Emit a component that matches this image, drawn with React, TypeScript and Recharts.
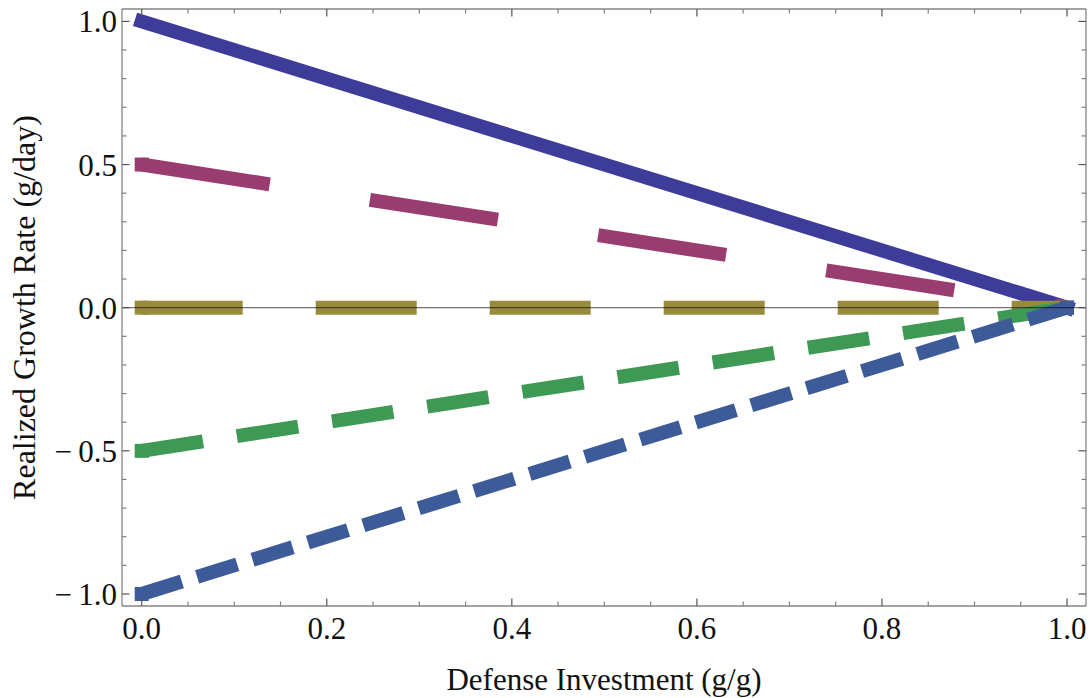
import React from 'react';
import { LineChart, Line, XAxis, YAxis, ReferenceLine } from 'recharts';

// ---- data ----
const investment = [0, 1];
const rateHigh = [1, 0];
const rateMid = [0.5, 0];
const rateZero = [0, 0];
const rateNegMid = [-0.5, 0];
const rateNegHigh = [-1, 0];

const xMajorTicks = [0, 0.2, 0.4, 0.6, 0.8, 1.0];
const xTickLabels = ['0.0', '0.2', '0.4', '0.6', '0.8', '1.0'];
const xAllTicks = [0, 0.05, 0.1, 0.15, 0.2, 0.25, 0.3, 0.35, 0.4, 0.45, 0.5, 0.55, 0.6, 0.65, 0.7, 0.75, 0.8, 0.85, 0.9, 0.95, 1.0];

const yMajorTicks = [-1, -0.5, 0, 0.5, 1];
const yTickLabels = ['\u2212\u20091.0', '\u2212\u20090.5', '0.0', '0.5', '1.0'];
const yAllTicks = [-1, -0.9, -0.8, -0.7, -0.6, -0.5, -0.4, -0.3, -0.2, -0.1, 0, 0.1, 0.2, 0.3, 0.4, 0.5, 0.6, 0.7, 0.8, 0.9, 1.0];

const xTitle = 'Defense Investment (g/g)';
const yTitle = 'Realized Growth Rate (g/day)';

const table = investment.map((x, i) => ({
  x,
  high: rateHigh[i],
  mid: rateMid[i],
  zero: rateZero[i],
  negMid: rateNegMid[i],
  negHigh: rateNegHigh[i],
}));
const tableRev = [...table].reverse();

// ---- style ----
const FONT = 'Liberation Serif, Times New Roman, serif';
const X_DOMAIN: [number, number] = [-0.0213, 1.0205];
const Y_DOMAIN: [number, number] = [-1.042, 1.0433];
const FRAME = { stroke: '#858585', strokeWidth: 1.3 };
const LW = 14;
const MAJOR_LEN = 7.5;
const MINOR_LEN = 4.5;

const findMajor = (arr: number[], v: number) => arr.findIndex((m) => Math.abs(m - v) < 1e-6);

const BottomTick = (props: any) => {
  const { x, y, payload } = props;
  const idx = findMajor(xMajorTicks, payload.value);
  const major = idx >= 0;
  return (
    <g>
      <line x1={x} x2={x} y1={y} y2={y - (major ? MAJOR_LEN : MINOR_LEN)} stroke={major ? '#555' : '#808080'} strokeWidth={1.2} />
      {major && (
        <text x={x} y={y + 33} textAnchor="middle" fontFamily={FONT} fontSize={31} fill="#111">
          {xTickLabels[idx]}
        </text>
      )}
    </g>
  );
};

const TopTick = (props: any) => {
  const { x, y, payload } = props;
  const major = findMajor(xMajorTicks, payload.value) >= 0;
  return <line x1={x} x2={x} y1={y} y2={y + (major ? MAJOR_LEN : MINOR_LEN)} stroke={major ? '#555' : '#808080'} strokeWidth={1.2} />;
};

const LeftTick = (props: any) => {
  const { x, y, payload } = props;
  const idx = findMajor(yMajorTicks, payload.value);
  const major = idx >= 0;
  return (
    <g>
      <line x1={x} x2={x + (major ? MAJOR_LEN : MINOR_LEN)} y1={y} y2={y} stroke={major ? '#555' : '#808080'} strokeWidth={1.2} />
      {major && (
        <text x={x - 5} y={y + 11} textAnchor="end" fontFamily={FONT} fontSize={31} fill="#111">
          {yTickLabels[idx]}
        </text>
      )}
    </g>
  );
};

const RightTick = (props: any) => {
  const { x, y, payload } = props;
  const major = findMajor(yMajorTicks, payload.value) >= 0;
  return <line x1={x} x2={x - (major ? MAJOR_LEN : MINOR_LEN)} y1={y} y2={y} stroke={major ? '#555' : '#808080'} strokeWidth={1.2} />;
};

const XTitle = (props: any) => {
  const vb = props.viewBox || { x: 122, y: 606, width: 964, height: 92 };
  return (
    <text x={vb.x + vb.width / 2} y={vb.y + 84} textAnchor="middle" fontFamily={FONT} fontSize={31} fill="#111">
      {xTitle}
    </text>
  );
};

const YTitle = (props: any) => {
  const vb = props.viewBox || { x: 0, y: 9, width: 122, height: 597 };
  const cx = vb.x + 35;
  const cy = vb.y + vb.height / 2;
  return (
    <text x={cx} y={cy} transform={`rotate(-90, ${cx}, ${cy})`} textAnchor="middle" fontFamily={FONT} fontSize={32} fill="#111">
      {yTitle}
    </text>
  );
};

const common = { xAxisId: 'b', yAxisId: 'l', isAnimationActive: false, dot: false, activeDot: false, type: 'linear' as const, strokeWidth: LW };

// dashed series with Mathematica-like square end caps
const dashedSeries = [
  { key: 'mid', color: '#993d71', dash: '129.5 101.4', endCap: true },
  { key: 'zero', color: '#998b3d', dash: '101 73', endCap: true },
  { key: 'negMid', color: '#3d9954', dash: '62 34.3', endCap: false },
  { key: 'negHigh', color: '#3d5a99', dash: '42 16', endCap: true },
];

export default function App() {
  return (
    <div style={{ position: 'absolute', left: 0, top: 0, width: 1092, height: 698, background: '#fff' }}>
      <LineChart width={1092} height={698} data={table} margin={{ top: 0, right: 0, bottom: 0, left: 0 }}>
        <XAxis
          xAxisId="b"
          dataKey="x"
          type="number"
          domain={X_DOMAIN}
          allowDataOverflow
          ticks={xAllTicks}
          interval={0}
          tickLine={false}
          tickSize={0}
          tickMargin={0}
          height={92}
          axisLine={FRAME}
          tick={(p: any) => <BottomTick {...p} />}
          label={<XTitle />}
        />
        <XAxis
          xAxisId="t"
          orientation="top"
          dataKey="x"
          type="number"
          domain={X_DOMAIN}
          allowDataOverflow
          ticks={xAllTicks}
          interval={0}
          tickLine={false}
          tickSize={0}
          tickMargin={0}
          height={9}
          axisLine={FRAME}
          tick={(p: any) => <TopTick {...p} />}
        />
        <YAxis
          yAxisId="l"
          type="number"
          domain={Y_DOMAIN}
          allowDataOverflow
          ticks={yAllTicks}
          interval={0}
          tickLine={false}
          tickSize={0}
          tickMargin={0}
          width={122}
          axisLine={FRAME}
          tick={(p: any) => <LeftTick {...p} />}
          label={<YTitle />}
        />
        <YAxis
          yAxisId="r"
          orientation="right"
          type="number"
          domain={Y_DOMAIN}
          allowDataOverflow
          ticks={yAllTicks}
          interval={0}
          tickLine={false}
          tickSize={0}
          tickMargin={0}
          width={6}
          axisLine={FRAME}
          tick={(p: any) => <RightTick {...p} />}
        />

        <Line {...common} dataKey="high" stroke="#3d3d99" strokeLinecap="square" />

        {dashedSeries.map((s) => [
          <Line key={s.key} {...common} dataKey={s.key} stroke={s.color} strokeDasharray={s.dash} strokeLinecap="butt" />,
          <Line key={s.key + '-startcap'} {...common} dataKey={s.key} stroke={s.color} strokeDasharray="0 100000" strokeLinecap="square" />,
          s.endCap ? (
            <Line key={s.key + '-endcap'} {...common} data={tableRev} dataKey={s.key} stroke={s.color} strokeDasharray="0 100000" strokeLinecap="square" />
          ) : null,
        ])}

        <ReferenceLine xAxisId="b" yAxisId="l" y={0} stroke="#000" strokeOpacity={0.55} strokeWidth={1.3} />
      </LineChart>
    </div>
  );
}
